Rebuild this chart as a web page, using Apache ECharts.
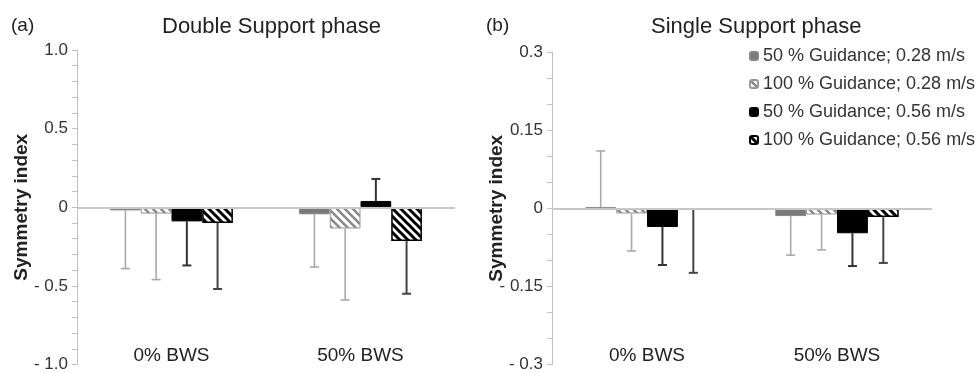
<!DOCTYPE html>
<html>
<head>
<meta charset="utf-8">
<script src="https://cdn.jsdelivr.net/npm/echarts@6/dist/echarts.min.js"></script>
<style>
html, body { margin: 0; padding: 0; background: #fff; }
#chart { width: 977px; height: 373px; }
</style>
</head>
<body>
<div id="chart"></div>
<script>
const categories = ['0% BWS', '50% BWS'];
const seriesNames = [
  '50 % Guidance; 0.28 m/s',
  '100 % Guidance; 0.28 m/s',
  '50 % Guidance; 0.56 m/s',
  '100 % Guidance; 0.56 m/s'
];

// (a) double support phase: bar means, and where each error whisker ends
const dsGuide50Slow = [-0.02, -0.045];
const dsGuide100Slow = [-0.04, -0.135];
const dsGuide50Fast = [-0.09, 0.04];
const dsGuide100Fast = [-0.10, -0.215];
const dsErrEnd = [[-0.39, -0.38], [-0.46, -0.59], [-0.37, 0.18], [-0.52, -0.55]];

// (b) single support phase
const ssGuide50Slow = [0.002, -0.015];
const ssGuide100Slow = [-0.01, -0.012];
const ssGuide50Fast = [-0.036, -0.048];
const ssGuide100Fast = [-0.002, -0.017];
const ssErrEnd = [[0.11, -0.09], [-0.082, -0.08], [-0.109, -0.111], [-0.124, -0.105]];

const dsTicks = { min: -1, max: 1, interval: 0.5, minor: 5 };
const ssTicks = { min: -0.3, max: 0.3, interval: 0.15, minor: 3 };

const FONT = 'Liberation Sans, Arial, sans-serif';

function hatch(stripe, lw) {
  const c = document.createElement('canvas');
  c.width = c.height = 8;
  const g = c.getContext('2d');
  g.fillStyle = '#fff';
  g.fillRect(0, 0, 8, 8);
  g.strokeStyle = stripe;
  g.lineWidth = lw;
  g.beginPath();
  g.moveTo(-2, -2); g.lineTo(10, 10);
  g.moveTo(-2, 6); g.lineTo(2, 10);
  g.moveTo(6, -2); g.lineTo(10, 2);
  g.stroke();
  return c;
}

const barStyles = [
  { color: '#7a7a7a', borderColor: '#888', borderWidth: 1 },
  { color: { image: hatch('#8a8a8a', 2.6), repeat: 'repeat' }, borderColor: '#999', borderWidth: 1 },
  { color: '#000', borderColor: '#000', borderWidth: 1 },
  { color: { image: hatch('#000', 3), repeat: 'repeat' }, borderColor: '#000', borderWidth: 1.5 }
];
const errColors = ['#a8a8a8', '#a8a8a8', '#333', '#444'];
const GAP = 0.35;

function fmt(dec) {
  return function (v) {
    if (Math.abs(v) < 1e-9) return '0';
    const s = dec ? Math.abs(v).toFixed(dec) : String(+Math.abs(v).toFixed(4));
    return v < 0 ? '- ' + s : s;
  };
}

function yAxis(idx, t, dec, gap) {
  return {
    type: 'value', gridIndex: idx, min: t.min, max: t.max, interval: t.interval,
    name: 'Symmetry index', nameLocation: 'middle', nameGap: gap, nameMoveOverlap: false,
    nameTextStyle: { fontFamily: FONT, fontSize: 19, fontWeight: 'bold', color: '#222' },
    axisLine: { show: true, lineStyle: { color: '#c0c0c0', width: 1 } },
    axisTick: { show: true, length: 5, lineStyle: { color: '#c0c0c0' } },
    minorTick: { show: true, splitNumber: t.minor, length: 5, lineStyle: { color: '#c0c0c0' } },
    splitLine: { show: false },
    axisLabel: { fontFamily: FONT, fontSize: 17, color: '#333', margin: 9, formatter: fmt(dec) }
  };
}

function xAxis(idx) {
  return {
    type: 'category', gridIndex: idx, data: categories,
    axisLine: { show: false, onZero: false }, axisTick: { show: false },
    axisLabel: { inside: true, margin: -1, fontFamily: FONT, fontSize: 19, color: '#222' }
  };
}

function barSeries(idx, values) {
  return values.map((vals, s) => {
    const o = {
      type: 'bar', name: seriesNames[s], xAxisIndex: idx, yAxisIndex: idx,
      data: vals, barGap: 0, barCategoryGap: GAP * 100 + '%',
      itemStyle: barStyles[s], z: 3, animation: false
    };
    if (s === 0) {
      o.markLine = {
        silent: true, symbol: ['none', 'none'], label: { show: false },
        lineStyle: { color: '#c8c8c8', width: 2, type: 'solid' },
        data: [{ yAxis: 0 }]
      };
    }
    return o;
  });
}

function errorSeries(idx, means, ends) {
  const data = [];
  means.forEach((row, s) => row.forEach((m, c) => data.push([c, m, ends[s][c], s])));
  return {
    type: 'custom', xAxisIndex: idx, yAxisIndex: idx, data: data, z: 2,
    encode: { x: 0, y: [1, 2] }, animation: false, silent: true,
    renderItem: function (params, api) {
      const c = api.value(0), s = api.value(3);
      const band = api.size([1, 0])[0];
      const bw = band * (1 - GAP) / 4;
      const p0 = api.coord([c, api.value(1)]);
      const p1 = api.coord([c, api.value(2)]);
      const x = p0[0] + (s - 1.5) * bw;
      const st = { stroke: errColors[s], lineWidth: s >= 2 ? 2 : 1.6 };
      return {
        type: 'group', children: [
          { type: 'line', shape: { x1: x, y1: p0[1], x2: x, y2: p1[1] }, style: st },
          { type: 'line', shape: { x1: x - 4.5, y1: p1[1], x2: x + 4.5, y2: p1[1] }, style: st }
        ]
      };
    }
  };
}

const dsMeans = [dsGuide50Slow, dsGuide100Slow, dsGuide50Fast, dsGuide100Fast];
const ssMeans = [ssGuide50Slow, ssGuide100Slow, ssGuide50Fast, ssGuide100Fast];

const titleStyle = { fontFamily: FONT, fontSize: 22, fontWeight: 'normal', color: '#222' };
const chart = echarts.init(document.getElementById('chart'));
chart.setOption({
  backgroundColor: '#fff',
  animation: false,
  title: [
    { text: '(a)', left: 6, top: 11, textStyle: Object.assign({}, titleStyle, { fontSize: 19 }) },
    { text: 'Double Support phase', left: 157, top: 11, textStyle: titleStyle },
    { text: '(b)', left: 481, top: 11, textStyle: Object.assign({}, titleStyle, { fontSize: 19 }) },
    { text: 'Single Support phase', left: 646, top: 11, textStyle: titleStyle }
  ],
  legend: {
    data: seriesNames, orient: 'vertical', left: 744, top: 42,
    itemWidth: 8, itemHeight: 8, itemGap: 10,
    textStyle: { fontFamily: FONT, fontSize: 18, color: '#333' }
  },
  grid: [
    { left: 77, top: 50, width: 378, height: 315 },
    { left: 552, top: 52, width: 380, height: 315 }
  ],
  xAxis: [xAxis(0), xAxis(1)],
  yAxis: [yAxis(0, dsTicks, 1, 46), yAxis(1, ssTicks, 0, 46)],
  series: []
    .concat(barSeries(0, dsMeans))
    .concat([errorSeries(0, dsMeans, dsErrEnd)])
    .concat(barSeries(1, ssMeans))
    .concat([errorSeries(1, ssMeans, ssErrEnd)])
});
</script>
</body>
</html>
